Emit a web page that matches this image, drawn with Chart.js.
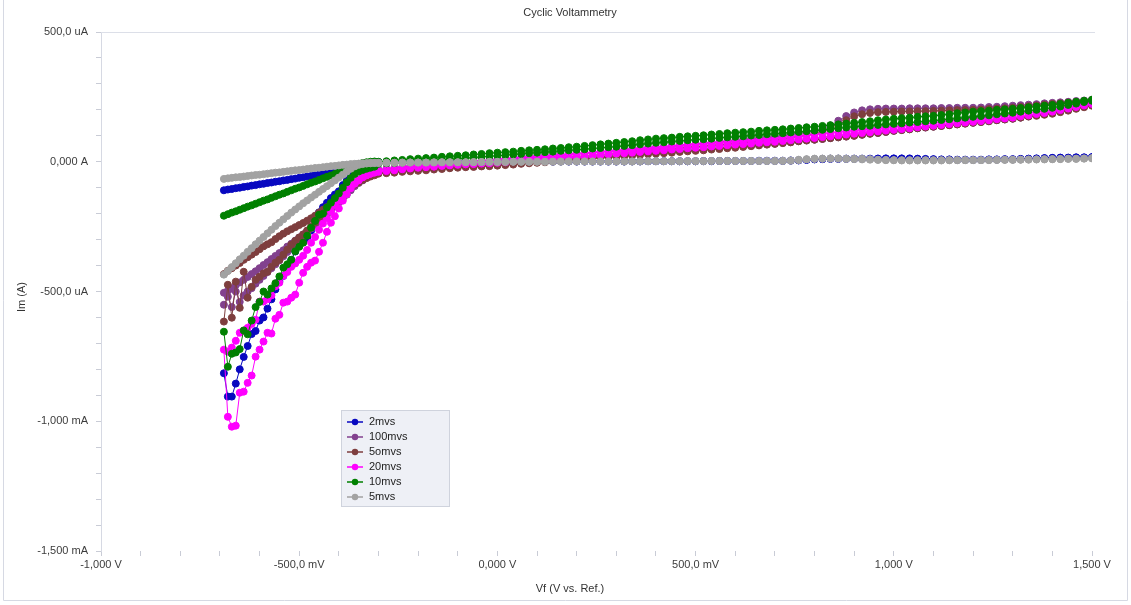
<!DOCTYPE html>
<html>
<head>
<meta charset="utf-8">
<title>Cyclic Voltammetry</title>
<script src="https://cdn.jsdelivr.net/npm/chart.js@4.4.1/dist/chart.umd.min.js"></script>
<style>
  html, body { margin: 0; padding: 0; background: #ffffff; }
  #wrap { position: relative; width: 1131px; height: 605px; }
  canvas { display: block; }
</style>
</head>
<body>
<div id="wrap"><canvas id="cv" width="1131" height="605"></canvas></div>
<script>
// ---- Text ----
const CHART_TITLE = 'Cyclic Voltammetry';
const X_TITLE = 'Vf (V vs. Ref.)';
const Y_TITLE = 'Im (A)';

// ---- Axis ticks (V and uA) with their printed labels ----
const X_TICKS = [-1, -0.5, 0, 0.5, 1, 1.5];
const X_TICK_LABELS = ['-1,000 V', '-500,0 mV', '0,000 V', '500,0 mV', '1,000 V', '1,500 V'];
const Y_TICKS = [500, 0, -500, -1000, -1500];
const Y_TICK_LABELS = ['500,0 uA', '0,000 A', '-500,0 uA', '-1,000 mA', '-1,500 mA'];

// ---- Potential grid (V): 10 mV steps at the cathodic end, 20 mV steps after ----
const LEFT_V = [-0.69,-0.68,-0.67,-0.66,-0.65,-0.64,-0.63,-0.62,-0.61,-0.60,
  -0.59,-0.58,-0.57,-0.56,-0.55,-0.54,-0.53,-0.52,-0.51,-0.50,
  -0.49,-0.48,-0.47,-0.46,-0.45,-0.44,-0.43,-0.42,-0.41,-0.40,
  -0.39,-0.38,-0.37,-0.36,-0.35,-0.34,-0.33,-0.32,-0.31];
const RIGHT_V = [-0.30,-0.28,-0.26,-0.24,-0.22,-0.20,-0.18,-0.16,-0.14,-0.12,
  -0.10,-0.08,-0.06,-0.04,-0.02,0.00,0.02,0.04,0.06,0.08,
  0.10,0.12,0.14,0.16,0.18,0.20,0.22,0.24,0.26,0.28,
  0.30,0.32,0.34,0.36,0.38,0.40,0.42,0.44,0.46,0.48,
  0.50,0.52,0.54,0.56,0.58,0.60,0.62,0.64,0.66,0.68,
  0.70,0.72,0.74,0.76,0.78,0.80,0.82,0.84,0.86,0.88,
  0.90,0.92,0.94,0.96,0.98,1.00,1.02,1.04,1.06,1.08,
  1.10,1.12,1.14,1.16,1.18,1.20,1.22,1.24,1.26,1.28,
  1.30,1.32,1.34,1.36,1.38,1.40,1.42,1.44,1.46,1.48,
  1.50];

// ---- Series names and colours ----
const SERIES_NAMES = ['2mvs', '100mvs', '5omvs', '20mvs', '10mvs', '5mvs'];
const SERIES_COLORS = ['#0808c0', '#82418e', '#7e3e3e', '#ff00ff', '#008000', '#a2a2a2'];

// ---- Currents (uA). Each scan rate has two branches; *_L on LEFT_V, *_R on RIGHT_V ----
// 2 mV/s
const blueOut_L = [-815,-905,-905,-855,-800,-752,-710,-664,-652,-612,
  -600,-566,-530,-492,-460,-440,-410,-378,-346,-325,
  -310,-294,-265,-225,-195,-175,-158,-140,-126,-114,
  -90,-72,-55,-38,-27,-16,-9,-4,-1];
const blueOut_R = [-1,-1,-1,-1,-1,-1,-1,-1,-1,-1,
  -1,-1,0,0,0,0,0,0,0,0,
  0,1,1,1,1,1,1,1,1,1,
  1,1,2,2,2,2,2,2,2,2,
  2,3,3,3,3,3,3,3,4,4,
  4,4,5,6,8,10,11,12,12,12,
  12,12,12,12,13,13,13,13,12,11,
  10,9,9,8,8,8,8,9,9,10,
  10,11,12,13,14,15,16,16,17,17,
  18];
const blueBack_L = [-110,-107,-105,-102,-100,-97,-95,-92,-90,-87,
  -85,-82,-80,-77,-75,-72,-70,-67,-65,-62,
  -60,-57,-55,-52,-50,-48,-45,-43,-40,-38,
  -33,-27,-20,-14,-10,-7,-5,-4,-3];
const blueBack_R = [-3,-3,-2,-2,-2,-2,-2,-2,-1,-1,
  -1,-1,-1,-1,-1,0,0,0,0,0,
  0,0,0,1,1,1,1,1,1,1,
  1,1,1,1,2,2,2,2,2,2,
  2,2,2,3,3,3,3,3,3,3,
  3,3,4,5,7,9,10,11,11,11,
  11,11,11,12,12,12,12,11,10,9,
  9,8,8,7,7,7,7,8,8,9,
  9,10,11,12,13,14,15,15,16,16,
  17];

// 100 mV/s
const purpleOut_L = [-551,-520,-560,-500,-540,-515,-500,-487,-470,-455,
  -440,-425,-410,-395,-380,-364,-348,-333,-318,-303,
  -288,-272,-257,-241,-226,-210,-194,-178,-162,-147,
  -132,-116,-101,-88,-70,-58,-48,-41,-36];
const purpleOut_R = [-31,-27,-24,-21,-18,-15,-13,-11,-8,-6,
  -4,-2,1,3,6,8,10,12,15,17,
  19,21,24,26,29,31,33,35,38,40,
  42,44,47,49,52,54,57,60,63,66,
  69,71,74,76,79,81,84,87,90,93,
  96,100,105,109,114,118,126,140,158,176,
  190,198,202,204,205,205,205,206,206,206,
  206,207,207,208,208,208,209,211,212,214,
  216,218,220,222,225,227,229,231,234,236,
  239];
const purpleBack_L = [-505,-497,-489,-475,-465,-455,-444,-433,-422,-410,
  -398,-387,-375,-363,-352,-341,-327,-316,-304,-292,
  -280,-267,-255,-243,-231,-218,-204,-188,-172,-157,
  -142,-127,-110,-94,-82,-72,-62,-54,-48];
const purpleBack_R = [-42,-40,-38,-35,-33,-31,-29,-26,-24,-21,
  -19,-18,-16,-15,-13,-12,-10,-7,-5,-2,
  0,2,5,7,10,12,14,16,19,21,
  23,25,28,30,33,35,37,39,42,44,
  46,48,51,53,56,58,60,62,65,67,
  69,72,75,79,82,85,88,91,94,97,
  100,104,108,111,115,119,122,125,129,132,
  135,138,141,144,147,150,153,156,160,163,
  166,170,175,180,184,189,195,201,207,214,
  221];

// 50 mV/s
const brownOut_L = [-616,-474,-601,-462,-563,-424,-524,-482,-455,-443,
  -430,-424,-405,-389,-378,-358,-339,-320,-305,-292,
  -280,-265,-250,-234,-218,-203,-188,-172,-156,-140,
  -124,-108,-93,-80,-70,-62,-56,-51,-47];
const brownOut_R = [-46,-44,-42,-39,-37,-35,-33,-30,-28,-25,
  -23,-21,-20,-18,-17,-15,-13,-11,-8,-6,
  -4,-2,1,3,6,8,10,12,15,17,
  19,21,24,26,29,31,33,35,38,40,
  42,44,47,49,52,54,57,60,63,66,
  69,72,75,79,82,85,88,91,94,97,
  100,104,108,111,115,119,122,125,129,132,
  135,138,141,144,147,150,153,156,160,163,
  166,170,174,177,181,185,191,197,204,210,
  216];
const brownBack_L = [-433,-420,-410,-400,-390,-378,-368,-358,-348,-337,
  -326,-318,-310,-298,-287,-277,-268,-260,-252,-244,
  -236,-227,-218,-208,-196,-185,-175,-163,-150,-137,
  -124,-112,-100,-88,-79,-70,-63,-57,-52];
const brownBack_R = [-42,-39,-36,-33,-30,-27,-25,-22,-20,-17,
  -15,-13,-10,-8,-6,-4,-2,1,3,6,
  8,10,12,15,17,19,21,24,26,29,
  31,33,35,38,40,42,45,48,52,55,
  58,60,62,65,67,69,72,75,79,82,
  85,89,94,98,103,108,114,125,142,160,
  175,183,188,191,192,193,194,194,195,195,
  196,197,198,199,199,200,201,203,205,206,
  208,211,214,217,220,223,225,228,230,233,
  235];

// 20 mV/s (both branches start at the cathodic end; the loop closes there)
const magentaIn_L = [-724,-732,-716,-690,-659,-651,-640,-625,-609,-539,
  -539,-530,-515,-480,-466,-440,-425,-405,-392,-378,
  -362,-340,-312,-290,-262,-238,-218,-192,-168,-150,
  -130,-110,-95,-82,-71,-60,-52,-46,-40];
const magentaIn_R = [-34,-30,-26,-22,-18,-14,-11,-9,-6,-4,
  -2,0,2,4,6,8,10,12,15,17,
  19,21,24,26,29,31,33,35,38,40,
  42,44,47,49,52,54,56,59,61,64,
  66,68,70,73,75,77,79,82,84,87,
  89,92,95,98,101,104,107,110,114,117,
  120,123,126,129,132,135,138,141,144,147,
  150,153,157,160,163,166,169,172,175,178,
  181,185,189,192,196,200,205,211,216,222,
  227];
const magentaOut_L = [null,-983,-1021,-1017,-890,-886,-852,-824,-751,-724,
  -693,-659,-662,-605,-590,-543,-539,-524,-512,-466,
  -428,-405,-389,-381,-347,-312,-270,-235,-210,-180,
  -150,-125,-102,-85,-72,-60,-52,-46,-42];
const magentaOut_R = [-39,-36,-33,-29,-26,-23,-21,-19,-16,-14,
  -12,-10,-9,-7,-6,-4,-2,1,3,6,
  8,10,12,15,17,19,21,24,26,29,
  31,33,35,38,40,42,44,47,49,52,
  54,56,59,61,64,66,68,70,73,75,
  77,80,83,86,89,92,95,98,102,105,
  108,111,114,117,120,123,126,129,133,136,
  139,142,145,148,151,154,157,160,164,167,
  170,175,179,184,188,193,199,205,211,217,
  223];

// 10 mV/s
const greenOut_L = [-655,-790,-740,-735,-722,-650,-665,-612,-560,-540,
  -500,-512,-488,-468,-442,-408,-395,-378,-345,-328,
  -312,-285,-254,-228,-204,-200,-176,-158,-140,-122,
  -100,-79,-62,-47,-38,-32,-27,-23,-19];
const greenOut_R = [-8,-6,-5,-3,-2,0,2,5,7,10,
  12,14,16,19,21,23,25,28,30,33,
  35,37,39,42,44,46,48,51,53,56,
  58,61,64,67,70,73,75,78,80,83,
  85,87,89,92,94,96,98,101,103,106,
  108,110,113,115,118,120,123,126,129,132,
  135,137,139,142,144,146,148,151,153,156,
  158,161,164,167,170,173,176,179,183,186,
  189,193,197,200,204,208,213,219,224,230,
  235];
const greenBack_L = [-208,-202,-196,-191,-185,-179,-173,-168,-162,-156,
  -150,-145,-139,-133,-127,-122,-116,-110,-104,-99,
  -93,-87,-81,-76,-70,-64,-58,-53,-47,-41,
  -36,-28,-21,-14,-9,-5,-2,0,1];
const greenBack_R = [0,2,5,7,10,12,14,16,19,21,
  23,25,28,30,33,35,37,39,42,44,
  46,48,51,53,56,58,61,64,67,70,
  73,76,79,83,86,89,91,93,96,98,
  100,102,105,107,110,112,114,116,119,121,
  123,125,128,130,133,135,138,141,144,147,
  150,153,156,160,163,166,168,170,173,175,
  177,180,183,187,190,193,195,197,200,202,
  204,207,210,213,216,219,223,227,231,235,
  239];

// 5 mV/s
const grayOut_L = [-435,-421,-406,-391,-376,-362,-347,-333,-318,-304,
  -290,-276,-262,-248,-235,-222,-209,-196,-184,-172,
  -160,-149,-138,-127,-116,-105,-94,-83,-72,-61,
  -50,-38,-27,-18,-12,-9,-7,-6,-5];
const grayOut_R = [-4,-4,-4,-3,-3,-3,-3,-2,-2,-2,
  -2,-2,-1,-1,0,0,0,0,0,0,
  0,0,1,1,1,1,1,1,1,1,
  1,1,1,2,2,2,2,2,2,3,
  3,3,3,3,3,3,3,3,3,3,
  3,4,5,8,10,12,12,13,13,12,
  12,12,10,8,7,6,6,6,6,6,
  6,6,6,6,6,6,6,7,7,8,
  8,8,9,9,10,10,11,12,12,13,
  14];
const grayBack_L = [-66,-64,-62,-60,-59,-57,-55,-53,-51,-50,
  -48,-46,-44,-42,-41,-39,-37,-35,-33,-32,
  -30,-28,-26,-24,-23,-21,-19,-17,-16,-14,
  -12,-11,-9,-8,-7,-6,-5,-4,-4];
const grayBack_R = [-5,-4,-4,-4,-3,-3,-3,-3,-2,-2,
  -2,-2,-2,-1,-1,-1,-1,0,0,0,
  0,0,0,0,1,1,1,1,1,1,
  1,1,1,1,2,2,2,2,2,2,
  2,2,3,3,3,3,3,3,3,3,
  3,3,4,6,9,11,12,12,12,11,
  10,9,8,7,6,6,5,5,5,5,
  5,5,6,6,6,6,6,6,7,7,
  7,8,8,9,9,10,10,11,11,12,
  13];

// ---- Build point lists ----
const VOLTS = LEFT_V.concat(RIGHT_V);
function toPoints(left, right) {
  return left.concat(right).map((i, k) => ({ x: VOLTS[k], y: i }));
}
// out-branch traced toward the anodic limit, then back-branch returned to the cathodic end
function loopAnodic(outL, outR, backL, backR) {
  return toPoints(outL, outR).concat(toPoints(backL, backR).reverse());
}
// first branch traced down to the cathodic end, second branch from there to the anodic limit
function loopCathodic(firstL, firstR, secondL, secondR) {
  return toPoints(firstL, firstR).reverse().concat(toPoints(secondL, secondR));
}

const SERIES_POINTS = [
  loopAnodic(blueOut_L, blueOut_R, blueBack_L, blueBack_R),
  loopAnodic(purpleOut_L, purpleOut_R, purpleBack_L, purpleBack_R),
  loopAnodic(brownOut_L, brownOut_R, brownBack_L, brownBack_R),
  loopCathodic(magentaIn_L, magentaIn_R, magentaOut_L, magentaOut_R),
  loopAnodic(greenOut_L, greenOut_R, greenBack_L, greenBack_R),
  loopAnodic(grayOut_L, grayOut_R, grayBack_L, grayBack_R)
];

const datasets = SERIES_NAMES.map((name, i) => ({
  label: name,
  data: SERIES_POINTS[i],
  showLine: true,
  spanGaps: true,
  borderColor: SERIES_COLORS[i],
  backgroundColor: SERIES_COLORS[i],
  borderWidth: 1,
  pointRadius: 3.5,
  pointBorderWidth: 1,
  pointHoverRadius: 3.5,
  order: SERIES_NAMES.length - i
}));

function labelFor(value, ticks, labels) {
  for (let i = 0; i < ticks.length; i++) {
    if (Math.abs(value - ticks[i]) < 1e-6 * Math.max(1, Math.abs(ticks[i]))) return labels[i];
  }
  return '';
}

const FONT = '"Liberation Sans", Arial, sans-serif';
Chart.defaults.font.family = FONT;
Chart.defaults.font.size = 11;

// Frame, titles and the boxed legend
const decor = {
  id: 'decor',
  afterDraw(chart) {
    const { ctx, chartArea: a } = chart;
    ctx.save();
    // plot frame top edge
    ctx.strokeStyle = '#dcdfe8';
    ctx.lineWidth = 1;
    ctx.beginPath();
    ctx.moveTo(a.left, a.top + 0.5);
    ctx.lineTo(a.right + 3, a.top + 0.5);
    ctx.stroke();
    // outer panel edge
    ctx.strokeStyle = '#d6d9e3';
    ctx.beginPath();
    ctx.moveTo(3.5, 0);
    ctx.lineTo(3.5, 600.5);
    ctx.lineTo(1127.5, 600.5);
    ctx.lineTo(1127.5, 0);
    ctx.stroke();

    // titles
    ctx.fillStyle = '#333333';
    ctx.font = '11px ' + FONT;
    ctx.textAlign = 'center';
    ctx.textBaseline = 'middle';
    ctx.fillText(CHART_TITLE, 570, 13);
    ctx.fillText(X_TITLE, 570, 589);
    ctx.save();
    ctx.translate(22, 297);
    ctx.rotate(-Math.PI / 2);
    ctx.fillText(Y_TITLE, 0, 0);
    ctx.restore();

    // legend
    const lx = 341, ly = 410, lw = 109, lh = 97;
    ctx.fillStyle = '#eef0f6';
    ctx.fillRect(lx, ly, lw, lh);
    ctx.strokeStyle = '#cfd3dd';
    ctx.strokeRect(lx + 0.5, ly + 0.5, lw - 1, lh - 1);
    chart.data.datasets.forEach((ds, i) => {
      const y = ly + 12 + i * 15;
      ctx.strokeStyle = ds.borderColor;
      ctx.lineWidth = 1.5;
      ctx.beginPath();
      ctx.moveTo(347, y);
      ctx.lineTo(363, y);
      ctx.stroke();
      ctx.fillStyle = ds.backgroundColor;
      ctx.beginPath();
      ctx.arc(355, y, 3.2, 0, Math.PI * 2);
      ctx.fill();
      ctx.fillStyle = '#222222';
      ctx.textAlign = 'left';
      ctx.fillText(ds.label, 369, y);
    });
    ctx.restore();
  }
};

new Chart(document.getElementById('cv'), {
  type: 'scatter',
  data: { datasets },
  options: {
    responsive: false,
    animation: false,
    devicePixelRatio: 1,
    layout: { padding: { top: 32, right: 39, bottom: 0, left: 0 } },
    plugins: {
      legend: { display: false },
      title: { display: false },
      tooltip: { enabled: false }
    },
    scales: {
      x: {
        type: 'linear',
        position: 'bottom',
        min: -1,
        max: 1.5,
        afterFit(scale) { scale.height = 54; },
        ticks: {
          stepSize: 0.1,
          autoSkip: false,
          maxRotation: 0,
          padding: 2,
          color: '#3c3c3c',
          font: { size: 11, family: FONT },
          callback: (v) => labelFor(v, X_TICKS, X_TICK_LABELS)
        },
        grid: { drawOnChartArea: false, drawTicks: true, tickLength: 5, color: '#c9ccd6' },
        border: { display: false }
      },
      y: {
        type: 'linear',
        min: -1500,
        max: 500,
        afterFit(scale) { scale.width = 101; },
        ticks: {
          stepSize: 100,
          autoSkip: false,
          padding: 8,
          color: '#3c3c3c',
          font: { size: 11, family: FONT },
          callback: (v) => labelFor(v, Y_TICKS, Y_TICK_LABELS)
        },
        grid: { drawOnChartArea: false, drawTicks: true, tickLength: 5, color: '#c9ccd6' },
        border: { display: true, color: '#d6d9e3' }
      }
    }
  },
  plugins: [decor]
});
</script>
</body>
</html>
